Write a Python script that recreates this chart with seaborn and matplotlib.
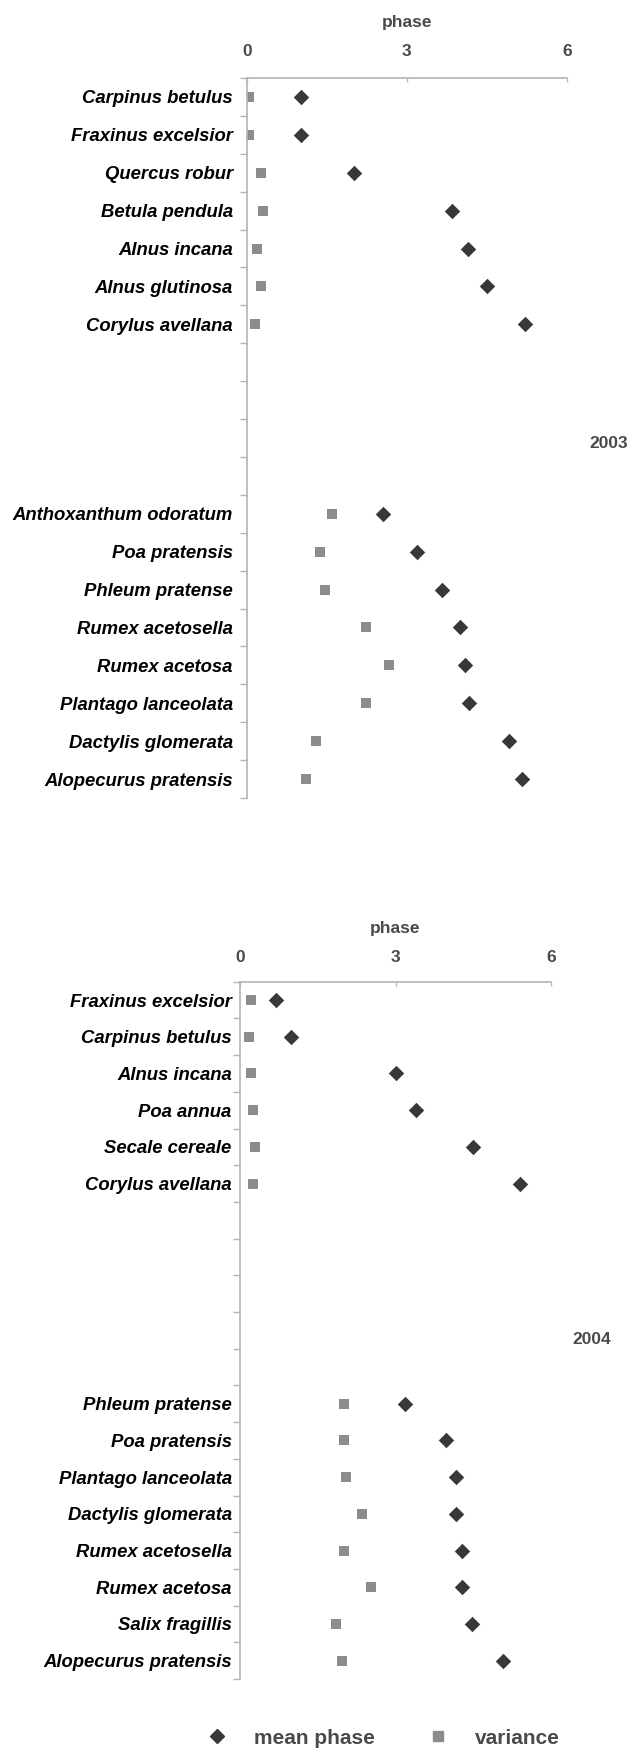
import numpy as np
import pandas as pd
import matplotlib.pyplot as plt
import seaborn as sns
from matplotlib.lines import Line2D

# 2003
trees_2003 = ['Carpinus betulus', 'Fraxinus excelsior', 'Quercus robur', 'Betula pendula',
              'Alnus incana', 'Alnus glutinosa', 'Corylus avellana']
trees_2003_mean = [1.02, 1.02, 2.01, 3.84, 4.14, 4.51, 5.22]
trees_2003_var = [0.05, 0.05, 0.27, 0.31, 0.20, 0.27, 0.16]
grass_2003 = ['Anthoxanthum odoratum', 'Poa pratensis', 'Phleum pratense', 'Rumex acetosella',
              'Rumex acetosa', 'Plantago lanceolata', 'Dactylis glomerata', 'Alopecurus pratensis']
grass_2003_mean = [2.56, 3.20, 3.66, 4.00, 4.10, 4.17, 4.92, 5.16]
grass_2003_var = [1.60, 1.37, 1.47, 2.23, 2.66, 2.23, 1.29, 1.11]
gap_2003 = 4

# 2004
trees_2004 = ['Fraxinus excelsior', 'Carpinus betulus', 'Alnus incana', 'Poa annua',
              'Secale cereale', 'Corylus avellana']
trees_2004_mean = [0.70, 0.99, 3.00, 3.40, 4.50, 5.40]
trees_2004_var = [0.21, 0.17, 0.21, 0.25, 0.28, 0.26]
grass_2004 = ['Phleum pratense', 'Poa pratensis', 'Plantago lanceolata', 'Dactylis glomerata',
              'Rumex acetosella', 'Rumex acetosa', 'Salix fragillis', 'Alopecurus pratensis']
grass_2004_mean = [3.18, 3.97, 4.17, 4.17, 4.28, 4.28, 4.47, 5.07]
grass_2004_var = [2.01, 2.01, 2.05, 2.35, 2.01, 2.52, 1.85, 1.97]
gap_2004 = 5

x_ticks = [0, 3, 6]

sns.set_theme(style='white')
plt.rcParams['font.family'] = ['Liberation Sans', 'DejaVu Sans']

dark = '#383838'
light = '#8c8c8c'
axis_col = '#b4b4b4'
txt_col = '#4a4a4a'


def make_df(trees, tm, tv, grass, gm, gv, gap):
    labels = trees + [''] * gap + grass
    mean = tm + [np.nan] * gap + gm
    var = tv + [np.nan] * gap + gv
    df = pd.DataFrame({'species': labels, 'mean': mean, 'variance': var})
    df['row'] = np.arange(len(df))
    return df


def draw(ax, df, year, year_y, tick_pad, label_pad, ypad):
    sns.scatterplot(data=df, x='variance', y='row', marker='s', color=light,
                    s=62, linewidth=0, ax=ax, legend=False)
    sns.scatterplot(data=df, x='mean', y='row', marker='D', color=dark,
                    s=62, linewidth=0, ax=ax, legend=False)
    n = len(df)
    ax.set_xlim(0, 6)
    ax.set_ylim(n - 0.5, -0.5)
    ax.xaxis.tick_top()
    ax.xaxis.set_label_position('top')
    ax.set_xticks(x_ticks)
    ax.set_xticklabels([str(t) for t in x_ticks], fontsize=12.5, fontweight='bold',
                       color=txt_col)
    ax.tick_params(axis='x', direction='in', length=3, width=1, color=axis_col,
                   pad=tick_pad, top=True, bottom=False)
    ax.set_xlabel('phase', fontsize=12.5, fontweight='bold', color=txt_col,
                  labelpad=label_pad)
    ax.set_yticks(df['row'])
    ax.set_yticklabels(df['species'], fontsize=13.3, fontweight='bold', style='italic',
                       color='black')
    ax.tick_params(axis='y', which='major', length=0, pad=ypad, left=True)
    ax.set_yticks(np.arange(n + 1) - 0.5, minor=True)
    ax.tick_params(axis='y', which='minor', direction='out', length=5, width=1,
                   color=axis_col, left=True)
    ax.set_ylabel('')
    for side in ['right', 'bottom']:
        ax.spines[side].set_visible(False)
    for side in ['left', 'top']:
        ax.spines[side].set_color(axis_col)
        ax.spines[side].set_linewidth(1.2)
    ax.text(1.13, year_y, year, transform=ax.transAxes, ha='center', va='center',
            fontsize=12.5, fontweight='bold', color=txt_col)


fig = plt.figure(figsize=(6.36, 17.51), dpi=100)

df03 = make_df(trees_2003, trees_2003_mean, trees_2003_var,
               grass_2003, grass_2003_mean, grass_2003_var, gap_2003)
df04 = make_df(trees_2004, trees_2004_mean, trees_2004_var,
               grass_2004, grass_2004_mean, grass_2004_var, gap_2004)

ax1 = fig.add_axes([246.7 / 636, 1 - 798 / 1751, 320 / 636, 720 / 1751])
draw(ax1, df03, '2003', 1 - (443 - 78) / 720, 14, 12, 10)

ax2 = fig.add_axes([240 / 636, 1 - 1679 / 1751, 311 / 636, 697.3 / 1751])
draw(ax2, df04, '2004', 1 - (1339 - 981.7) / 697.3, 12, 12, 6)

handles = [Line2D([], [], marker='D', color=dark, linestyle='none', markersize=7),
           Line2D([], [], marker='s', color=light, linestyle='none', markersize=7)]
fig.legend(handles, ['mean phase', 'variance'], loc='center',
           bbox_to_anchor=(378 / 636, 1 - 1738 / 1751), ncol=2, frameon=False,
           prop={'size': 15, 'weight': 'bold'},
           labelcolor=txt_col, handletextpad=0.8, columnspacing=2.0, borderpad=0)

fig.savefig('out.png', dpi=100)
